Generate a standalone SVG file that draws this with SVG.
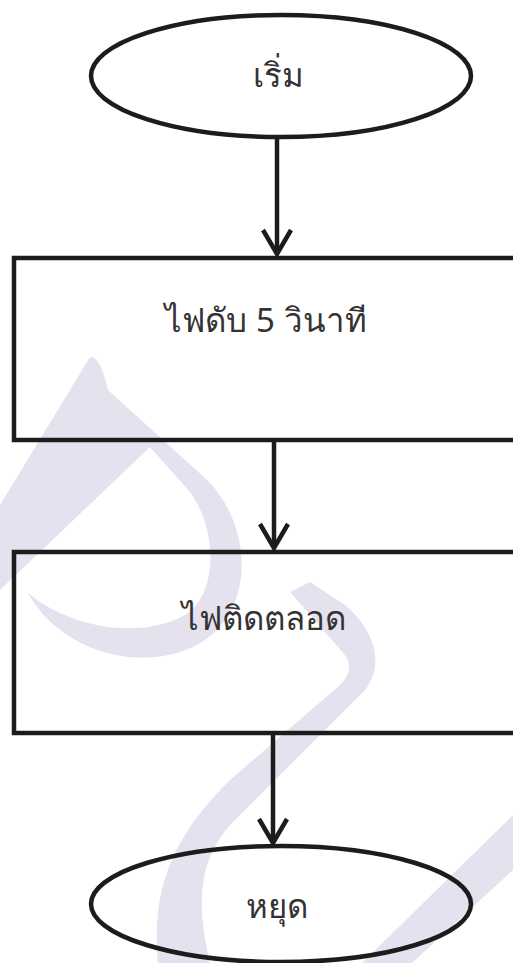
<svg xmlns="http://www.w3.org/2000/svg" width="513" height="963" viewBox="0 0 513 963">
<style>
.wm{fill:#e6e1ef;stroke:none}
.shape{fill:none;stroke:#1c1c1c;stroke-width:4.5}
.conn{fill:none;stroke:#1c1c1c;stroke-width:4.5}
.lbl{font-family:"Noto Sans","DejaVu Sans",sans-serif;font-size:33px;fill:#333333;text-anchor:middle}
</style>
<defs>
<marker id="arr" markerUnits="userSpaceOnUse" markerWidth="40" markerHeight="40" viewBox="-20 -30 40 40" refX="0" refY="0" orient="auto" overflow="visible">
<path d="M-24,-14 L0,0 L-24,14" fill="none" stroke="#1c1c1c" stroke-width="4.5"/>
</marker>
</defs>
<rect width="513" height="963" fill="#ffffff"/>
<g id="watermark">
<path class="wm" d="M90,357 C97,356 103,368 108,390 L205,478 C245,515 258,590 215,632 C180,665 110,668 60,630 C45,618 35,606 28,593 C70,628 140,640 185,615 C218,595 218,530 190,492 L150,447 L0,590 L0,505 Z"/>
<path class="wm" d="M290,592 L345,655 C352,665 350,675 340,685 L230,780 C180,830 150,880 158,963 L210,963 C195,900 200,860 230,825 L365,690 C385,665 375,630 345,605 L310,582 Z"/>
<path class="wm" d="M513,815 L362,963 L412,963 L513,870 Z"/>
</g>
<g id="connectors">
<line class="conn" x1="277" y1="137" x2="277" y2="254" marker-end="url(#arr)"/>
<line class="conn" x1="274" y1="442" x2="274" y2="548" marker-end="url(#arr)"/>
<line class="conn" x1="273" y1="735" x2="273" y2="843" marker-end="url(#arr)"/>
</g>
<g id="start">
<ellipse class="shape" cx="281" cy="76" rx="190" ry="61"/>
<text class="lbl" x="278" y="87">เริ่ม</text>
</g>
<g id="step1">
<rect class="shape" x="14" y="258" width="520" height="182"/>
<text class="lbl" x="266" y="332">ไฟดับ 5 วินาที</text>
</g>
<g id="step2">
<rect class="shape" x="14" y="552" width="520" height="181"/>
<text class="lbl" x="264" y="630">ไฟติดตลอด</text>
</g>
<g id="stop">
<ellipse class="shape" cx="281" cy="904" rx="190" ry="58"/>
<text class="lbl" x="277" y="918">หยุด</text>
</g>
</svg>
